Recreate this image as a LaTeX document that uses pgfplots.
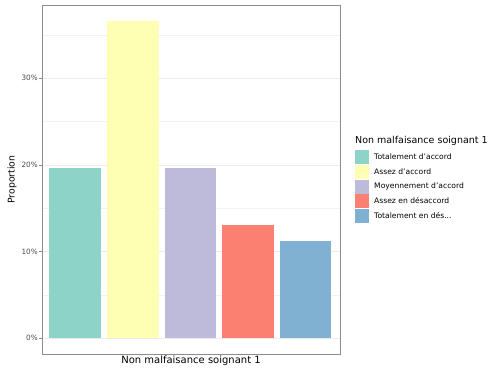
\documentclass[border=0pt]{standalone}
\usepackage{pgfplots}
\pgfplotsset{compat=1.18}
\usepackage{fontspec}
\setmainfont{DejaVu Sans}
\definecolor{c1}{HTML}{8DD3C7}
\definecolor{c2}{HTML}{FFFFB3}
\definecolor{c3}{HTML}{BEBADA}
\definecolor{c4}{HTML}{FB8072}
\definecolor{c5}{HTML}{80B1D3}
\begin{document}
\begin{tikzpicture}[x=1bp,y=1bp]
\path[use as bounding box] (0,0) rectangle (488,369);
\begin{axis}[
  at={(42bp,15bp)}, anchor=south west,
  scale only axis, width=298bp, height=349bp,
  clip=false,
  xmin=-0.58, xmax=4.6, ymin=-1.83, ymax=38.43,
  xtick=\empty,
  ytick={0,10,20,30},
  minor ytick={5,15,25,35},
  ytick pos=left,
  ymajorgrids, yminorgrids,
  major grid style={color=black!8, line width=0.5bp},
  minor grid style={color=black!5, line width=0.4bp},
  axis line style={draw=black!45, line width=0.6bp},
  tick align=outside,
  major tick length=3bp,
  minor tick length=0pt,
  every tick/.style={draw=black!45, line width=0.5bp},
  /pgf/number format/assume math mode=true,
  yticklabel={\pgfmathprintnumber{\tick}\%},
  yticklabel style={font=\fontsize{7.3bp}{8bp}\selectfont, text=black!70, inner sep=1bp},
  xlabel={Non malfaisance soignant 1},
  xlabel style={at={(rel axis cs:0.5,0)}, anchor=north, yshift=-2bp, inner sep=0pt, font=\fontsize{10bp}{12bp}\selectfont},
  ylabel={Proportion},
  ylabel style={at={(rel axis cs:0,0.5)}, anchor=center, yshift=30bp, inner sep=0pt, font=\fontsize{9.3bp}{11bp}\selectfont},
  ybar, bar width=0.9, bar shift=0pt,
  legend cell align=left,
  legend style={at={(rel axis cs:1.0503,0.5845)}, anchor=north west, draw=none, fill=none,
    inner sep=0pt, row sep=0.7bp, column sep=5bp,
    nodes={inner sep=0pt}, font=\fontsize{7.6bp}{9bp}\selectfont},
  legend image code/.code={\path[#1] (0bp,-7bp) rectangle (14bp,7bp);},
]
\addplot[fill=c1, draw=none] coordinates {(0,19.6)};
\addlegendentry{Totalement d'accord}
\addplot[fill=c2, draw=none] coordinates {(1,36.6)};
\addlegendentry{Assez d'accord}
\addplot[fill=c3, draw=none] coordinates {(2,19.6)};
\addlegendentry{Moyennement d'accord}
\addplot[fill=c4, draw=none] coordinates {(3,13.0)};
\addlegendentry{Assez en désaccord}
\addplot[fill=c5, draw=none] coordinates {(4,11.2)};
\addlegendentry{Totalement en dés...}
\node[anchor=west, inner sep=0pt, font=\fontsize{9.5bp}{11bp}\selectfont] at (rel axis cs:1.0503,0.6103) {Non malfaisance soignant 1};
\end{axis}
\end{tikzpicture}
\end{document}
